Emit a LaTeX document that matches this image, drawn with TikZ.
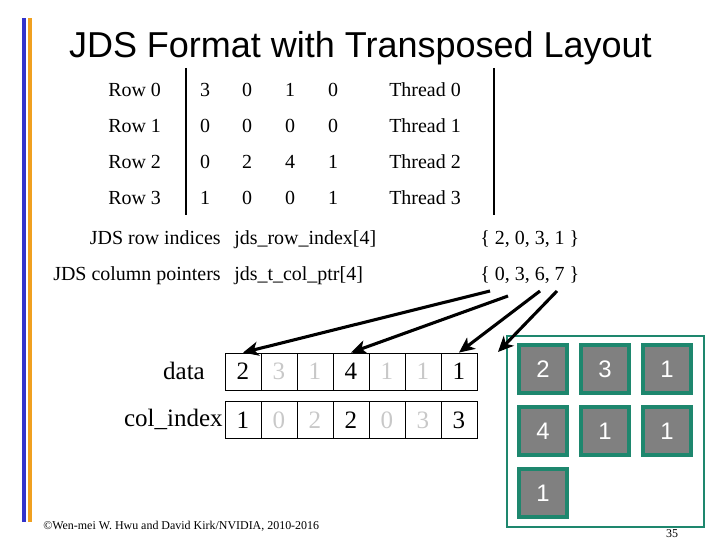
\documentclass[tikz,border=0pt]{standalone}
\usepackage{fontspec}
\setmainfont{Liberation Serif}
\setsansfont{Liberation Sans}
\usetikzlibrary{arrows.meta}
\begin{document}
\begin{tikzpicture}[
    heading/.style={font=\sffamily\fontsize{25.6pt}{30pt}\selectfont, anchor=base, inner sep=0pt},
    tabtext/.style={font=\fontsize{14.2pt}{17pt}\selectfont, anchor=base, inner sep=0pt},
    rowlabel/.style={tabtext, anchor=base west},
    arrlabel/.style={font=\fontsize{17.8pt}{20pt}\selectfont, inner sep=0pt},
    cell/.style={draw=black, line width=0.6pt, minimum width=0.9cm, minimum height=0.925cm, inner sep=0pt, font=\fontsize{17.8pt}{20pt}\selectfont},
    unused/.style={text=fadedtext},
    tile/.style={draw=densegreen, fill=cellgray, line width=2.2pt, minimum size=1.2cm, inner sep=0pt, text=white, font=\sffamily\fontsize{17pt}{20pt}\selectfont},
    flow/.style={->, >={Stealth[length=11pt, width=10pt, inset=3pt]}, draw=black, line width=2.2pt},
    rule/.style={draw=black, line width=1.4pt}
]
\definecolor{barblue}{RGB}{51,51,204}
\definecolor{barorange}{RGB}{240,160,32}
\definecolor{densegreen}{RGB}{30,135,110}
\definecolor{cellgray}{RGB}{128,128,128}
\definecolor{fadedtext}{RGB}{200,200,200}

\useasboundingbox (0,0) rectangle (18,13.5);
\fill[barblue] (0.55,0.45) rectangle (0.65,13.05);
\fill[barorange] (0.69,0.45) rectangle (0.79,13.05);
\node[heading] (title) at (9.01,12.05) {JDS Format with Transposed Layout};

% matrix with one thread per row
\draw[rule] (4.65,11.80) -- (4.65,8.125);
\draw[rule] (12.35,11.80) -- (12.35,8.125);
\node[rowlabel] (row0) at (2.70,11.075) {Row 0};
\node[tabtext] (m00) at (5.125,11.075) {3};
\node[tabtext] (m01) at (6.175,11.075) {0};
\node[tabtext] (m02) at (7.250,11.075) {1};
\node[tabtext] (m03) at (8.325,11.075) {0};
\node[rowlabel] (thr0) at (9.725,11.075) {Thread 0};
\node[rowlabel] (row1) at (2.70,10.175) {Row 1};
\node[tabtext] (m10) at (5.125,10.175) {0};
\node[tabtext] (m11) at (6.175,10.175) {0};
\node[tabtext] (m12) at (7.250,10.175) {0};
\node[tabtext] (m13) at (8.325,10.175) {0};
\node[rowlabel] (thr1) at (9.725,10.175) {Thread 1};
\node[rowlabel] (row2) at (2.70,9.275) {Row 2};
\node[tabtext] (m20) at (5.125,9.275) {0};
\node[tabtext] (m21) at (6.175,9.275) {2};
\node[tabtext] (m22) at (7.250,9.275) {4};
\node[tabtext] (m23) at (8.325,9.275) {1};
\node[rowlabel] (thr2) at (9.725,9.275) {Thread 2};
\node[rowlabel] (row3) at (2.70,8.375) {Row 3};
\node[tabtext] (m30) at (5.125,8.375) {1};
\node[tabtext] (m31) at (6.175,8.375) {0};
\node[tabtext] (m32) at (7.250,8.375) {0};
\node[tabtext] (m33) at (8.325,8.375) {1};
\node[rowlabel] (thr3) at (9.725,8.375) {Thread 3};

% jds arrays
\node[tabtext, anchor=base east] (rowname) at (5.525,7.375) {JDS row indices};
\node[rowlabel] (rowvar) at (5.85,7.375) {jds\_row\_index[4]};
\node[rowlabel] (rowval) at (12.00,7.375) {\{ 2, 0, 3, 1 \}};
\node[tabtext, anchor=base east] (ptrname) at (5.525,6.475) {JDS column pointers};
\node[rowlabel] (ptrvar) at (5.85,6.475) {jds\_t\_col\_ptr[4]};
\node[rowlabel] (ptrval) at (12.00,6.475) {\{ 0, 3, 6, 7 \}};

% transposed storage
\node[arrlabel, anchor=base] (datalbl) at (4.60,4.00) {data};
\node[arrlabel, anchor=base east] (collbl) at (5.575,2.825) {col\_index};
\node[cell] (d1) at (6.075,4.2125) {2};
\node[cell, unused] (d2) at (6.975,4.2125) {3};
\node[cell, unused] (d3) at (7.875,4.2125) {1};
\node[cell] (d4) at (8.775,4.2125) {4};
\node[cell, unused] (d5) at (9.675,4.2125) {1};
\node[cell, unused] (d6) at (10.575,4.2125) {1};
\node[cell] (d7) at (11.475,4.2125) {1};
\node[cell] (c1) at (6.075,3.00) {1};
\node[cell, unused] (c2) at (6.975,3.00) {0};
\node[cell, unused] (c3) at (7.875,3.00) {2};
\node[cell] (c4) at (8.775,3.00) {2};
\node[cell, unused] (c5) at (9.675,3.00) {0};
\node[cell, unused] (c6) at (10.575,3.00) {3};
\node[cell] (c7) at (11.475,3.00) {3};

% packed view
\node[draw=densegreen, line width=1.8pt, minimum width=4.925cm, minimum height=4.775cm, inner sep=0pt] (dense) at (15.1375,2.7125) {};
\node[tile] (t1) at (13.575,4.275) {2};
\node[tile] (t2) at (15.125,4.275) {3};
\node[tile] (t3) at (16.675,4.275) {1};
\node[tile] (t4) at (13.575,2.725) {4};
\node[tile] (t5) at (15.125,2.725) {1};
\node[tile] (t6) at (16.675,2.725) {1};
\node[tile] (t7) at (13.575,1.175) {1};

\coordinate (p0) at (12.25,6.225);
\coordinate (p1) at (12.70,6.10);
\coordinate (p2) at (13.50,6.225);
\coordinate (p3) at (13.925,6.225);
\coordinate (pend) at (12.45,4.70);
\draw[flow] (p0) -- (d1.north);
\draw[flow] (p1) -- (d4.north);
\draw[flow] (p2) -- (d7.north);
\draw[flow] (p3) -- (pend);

\node[anchor=base west, inner sep=0pt, font=\fontsize{8.5pt}{10pt}\selectfont] (credit) at (1.075,0.25) {\textcopyright Wen-mei W. Hwu and David Kirk/NVIDIA, 2010-2016};
\node[anchor=base, inner sep=0pt, font=\fontsize{8.5pt}{10pt}\selectfont] (pageno) at (16.80,0.075) {35};
\end{tikzpicture}
\end{document}
